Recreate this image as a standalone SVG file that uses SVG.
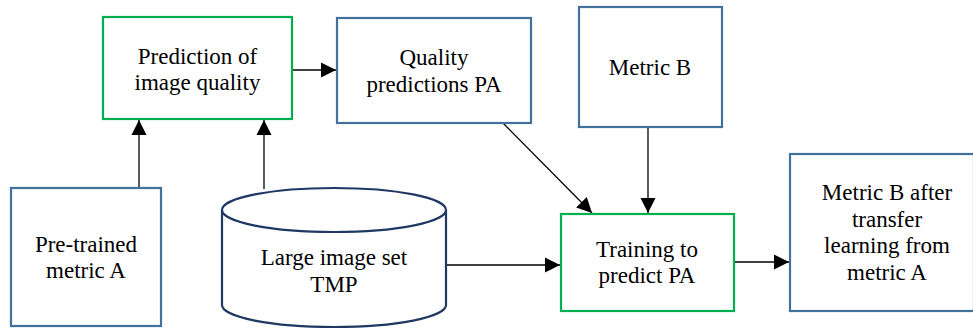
<svg xmlns="http://www.w3.org/2000/svg" width="973" height="330" viewBox="0 0 973 330">
<style>
.blue{fill:#fff;stroke:#41719c;stroke-width:2.2}
.green{fill:#fff;stroke:#00b050;stroke-width:2.2}
.cyl{fill:#fff;stroke:#1f3864;stroke-width:2.2}
.c{stroke:#000;stroke-width:1.3;fill:none;marker-end:url(#ah)}
.t{font-family:"Liberation Serif","Times New Roman",serif;font-size:23px;fill:#000;text-anchor:middle}
</style>
<defs>
<marker id="ah" markerUnits="userSpaceOnUse" markerWidth="16" markerHeight="16" viewBox="0 0 16 16" refX="15" refY="8" orient="auto">
<path d="M0,0.5 L15,8 L0,15.5 Z" fill="#000"/>
</marker>
</defs>
<rect width="973" height="330" fill="#fff"/>
<g id="connectors">
<line class="c" x1="139" y1="188" x2="139" y2="120"/>
<line class="c" x1="264" y1="189" x2="264" y2="120"/>
<line class="c" x1="289" y1="70" x2="336" y2="70"/>
<line class="c" x1="503" y1="123" x2="592" y2="213"/>
<line class="c" x1="648" y1="127" x2="648" y2="213"/>
<line class="c" x1="446" y1="265" x2="560" y2="265"/>
<line class="c" x1="734" y1="262" x2="789" y2="262"/>
</g>
<g id="prediction">
<rect class="green" x="103" y="17" width="189" height="102"/>
<text class="t" x="197.5" y="64">Prediction of</text>
<text class="t" x="197.5" y="90">image quality</text>
</g>
<g id="pretrained">
<rect class="blue" x="11" y="188" width="150" height="138"/>
<text class="t" x="86" y="252">Pre-trained</text>
<text class="t" x="86" y="278">metric A</text>
</g>
<g id="imageset">
<path class="cyl" d="M222,210 A112,22 0 0 1 446,210 L446,305 A112,22 0 0 1 222,305 Z"/>
<path class="cyl" d="M222,210 A112,22 0 0 0 446,210" fill="none"/>
<text class="t" x="334" y="265">Large image set</text>
<text class="t" x="334" y="292">TMP</text>
</g>
<g id="quality">
<rect class="blue" x="337" y="18" width="194" height="105"/>
<text class="t" x="434" y="65">Quality</text>
<text class="t" x="434" y="92">predictions PA</text>
</g>
<g id="metricb">
<rect class="blue" x="579" y="7" width="143" height="120"/>
<text class="t" x="650" y="75">Metric B</text>
</g>
<g id="training">
<rect class="green" x="561" y="214" width="173" height="97"/>
<text class="t" x="647" y="257">Training to</text>
<text class="t" x="647" y="283">predict PA</text>
</g>
<g id="metricb-after">
<rect class="blue" x="790" y="154" width="184" height="157"/>
<text class="t" x="887" y="200">Metric B after</text>
<text class="t" x="887" y="227">transfer</text>
<text class="t" x="887" y="253">learning from</text>
<text class="t" x="887" y="280">metric A</text>
</g>
</svg>
